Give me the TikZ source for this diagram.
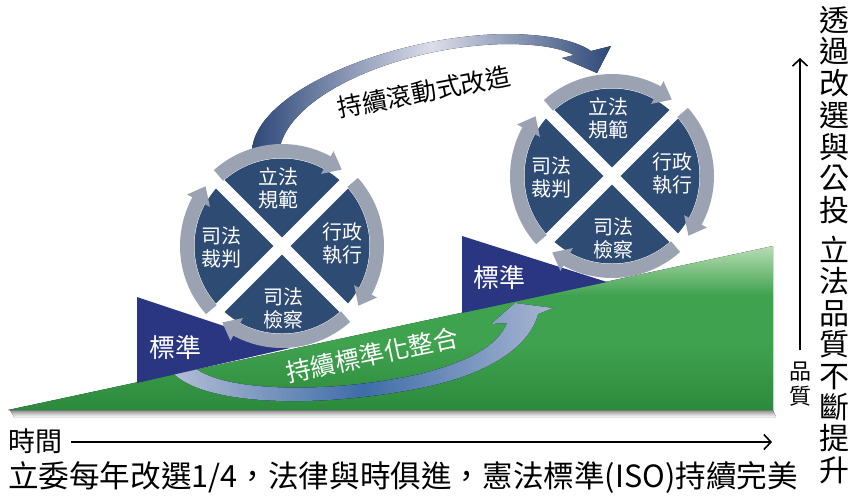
\documentclass[tikz,border=0pt]{standalone}
\usepackage{fontspec}
\setmainfont{Noto Sans CJK TC}
\usetikzlibrary{arrows.meta}
\definecolor{discc}{HTML}{2E4B73}
\definecolor{ringc}{HTML}{9BA3B2}
\definecolor{tric}{HTML}{2B3682}
\definecolor{navyA}{HTML}{2D4878}
\definecolor{lightA}{HTML}{DCDDEA}
\definecolor{bluL}{HTML}{B4BED6}
\definecolor{bluD}{HTML}{3E6DA8}
\definecolor{gDark}{HTML}{2C8A3C}
\definecolor{gMid}{HTML}{3FA24F}
\definecolor{gLight}{HTML}{B8DDB4}
\pgfdeclareverticalshading{greensh}{100bp}{color(0bp)=(gDark); color(25bp)=(gDark); color(45bp)=(gMid); color(60bp)=(gMid); color(75bp)=(gLight); color(100bp)=(gLight)}
\tikzset{
  quad/.style={font=\fontsize{20}{23}\selectfont, text=white, align=center, inner sep=0pt},
  stdlabel/.style={font=\fontsize{26}{30}\selectfont, text=white, inner sep=0pt},
  ringline/.style={draw=ringc, line width=14pt},
  xline/.style={draw=white, line width=12pt},
  axisarrow/.style={draw=black, line width=2.5pt, -{Straight Barb[length=7pt,width=15pt,line width=1.6pt]}},
  toparrow/.style={left color=navyA, right color=navyA, middle color=lightA},
  botarrow/.style={left color=bluL, right color=bluL!90!bluD, middle color=bluD},
  tri/.style={fill=tric}
}
\newcommand\lawcircle[2]{%
  \begin{scope}[shift={#2}]
    \fill[discc] (0,0) circle[radius=87.5pt];
    \draw[xline] (-45:91) -- (135:91);
    \draw[xline] (45:91) -- (-135:91);
    \foreach \q [evaluate=\q as \qa using \q-42, evaluate=\q as \qb using \q+29, evaluate=\q as \qc using \q+38] in {-90,0,90,180}{
      \draw[ringline] plot[domain=\qa:\qb, samples=25] ({95*cos(\x)},{95*sin(\x)});
      \fill[ringc] ({\qb-0.5}:82) -- ({\qb-0.5}:108) -- (\qc:97) -- cycle;
    }
    \node[quad] (#1top) at (-4,-58) {立法\\規範};
    \node[quad] (#1right) at (60,-3) {行政\\執行};
    \node[quad] (#1bottom) at (1,62) {司法\\檢察};
    \node[quad] (#1left) at (-61,1) {司法\\裁判};
  \end{scope}}
\begin{document}
\begin{tikzpicture}[x=1pt,y=-1pt]
\useasboundingbox (0,0) rectangle (854,496);
% green slope with shadow
\fill[top color=black!45, bottom color=white] (10,410) -- (773,410) -- (776,417) -- (14,417) -- cycle;
\fill[shading=greensh] (8,410) -- (773,410) -- (773,246) -- cycle;
% top rolling arrow
\fill[toparrow] (252,152) .. controls (253,92) and (390,36) .. (505,34) .. controls (545,34) and (575,40) .. (591,51) -- (611,46) -- (597,73) -- (562,58) -- (574,55) .. controls (560,48) and (540,44) .. (505,44) .. controls (400,46) and (286,95) .. (279,152) -- cycle;
\node[font=\fontsize{25}{28}\selectfont, rotate=11, inner sep=0pt] (toptext) at (424,92) {持續滾動式改造};
% bottom integration arrow
\fill[botarrow] (172,372) .. controls (205,408) and (330,408) .. (430,386) .. controls (492,372) and (530,345) .. (538,314) -- (553,308) -- (515,303) -- (491,324) -- (507,323) .. controls (498,346) and (468,362) .. (420,374) .. controls (330,394) and (225,392) .. (195,368) -- cycle;
% standard triangles
\fill[tri] (137,297) -- (290,348) -- (137,383) -- cycle;
\fill[tri] (462,236) -- (607,282) -- (462,313) -- cycle;
\node[stdlabel] (stdL) at (175,348) {標準};
\node[stdlabel] (stdR) at (499,278) {標準};
\node[font=\fontsize{25}{28}\selectfont, text=white, rotate=12, inner sep=0pt] (gtext) at (372,355) {持續標準化整合};
% circles
\lawcircle{L}{(282,246)}
\lawcircle{R}{(612,176)}
% time axis
\node[font=\fontsize{27}{30}\selectfont, inner sep=0pt] (time) at (36,441) {時間};
\coordinate (tend) at (772,442);
\draw[axisarrow] ([xshift=8pt]time.east |- tend) -- (tend);
\node[font=\fontsize{30.6}{34}\selectfont, inner sep=0pt] (bottomtext) at (403,477) {立委每年改選1/4，法律與時俱進，憲法標準(ISO)持續完美};
% quality axis
\coordinate (qbot) at (800,350);
\coordinate (qtop) at (800,58);
\draw[axisarrow] (qbot) -- (qtop);
\node[font=\fontsize{22}{25}\selectfont, align=center, inner sep=0pt] (quality) at (800,384) {品\\質};
\node[font=\fontsize{30}{31.7}\selectfont, align=center, inner sep=0pt] (rt1) at (834,115) {透\\過\\改\\選\\與\\公\\投};
\node[font=\fontsize{30}{31.4}\selectfont, align=center, inner sep=0pt] (rt2) at (834,360) {立\\法\\品\\質\\不\\斷\\提\\升};
\end{tikzpicture}
\end{document}
